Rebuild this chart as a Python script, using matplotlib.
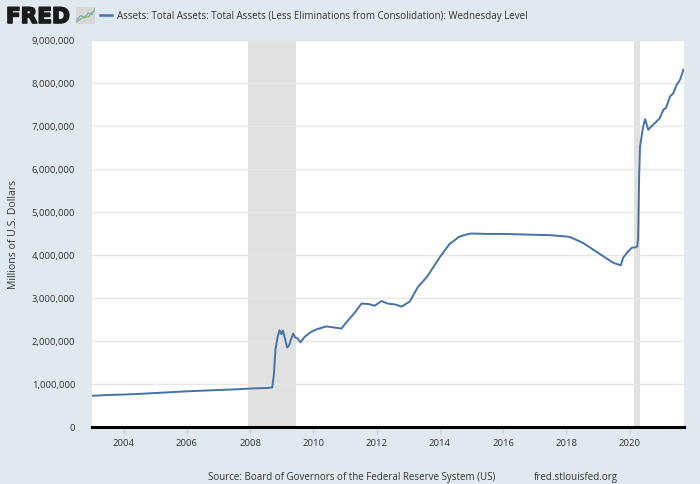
import matplotlib
matplotlib.use("Agg")
import matplotlib.pyplot as plt
import matplotlib.patheffects as pe
from matplotlib.ticker import FuncFormatter

plt.rcParams['font.family'] = ['Open Sans', 'DejaVu Sans']

# ---- data (decimal year, millions of U.S. dollars) ----
years = [2003.0, 2003.5, 2004.0, 2004.5, 2005.0, 2005.5, 2006.0, 2006.5, 2007.0, 2007.5,
         2007.9, 2008.2, 2008.5, 2008.70, 2008.75, 2008.80, 2008.87, 2008.93, 2008.99, 2009.04,
         2009.12, 2009.17, 2009.23, 2009.30, 2009.36, 2009.43, 2009.50, 2009.59, 2009.73, 2009.9,
         2010.10, 2010.41, 2010.6, 2010.89, 2011.05, 2011.3, 2011.52, 2011.75, 2011.94, 2012.15,
         2012.35, 2012.58, 2012.79, 2013.05, 2013.3, 2013.6, 2014.0, 2014.3, 2014.6, 2014.8,
         2015.0, 2015.5, 2016.0, 2016.5, 2017.0, 2017.5, 2018.0, 2018.11, 2018.53, 2019.17,
         2019.48, 2019.72, 2019.80, 2019.96, 2020.07, 2020.2, 2020.24, 2020.27, 2020.30, 2020.33,
         2020.43, 2020.49, 2020.59, 2020.70, 2020.86, 2020.95, 2021.07, 2021.15, 2021.28, 2021.38,
         2021.49, 2021.60, 2021.70]
assets = [725000, 745000, 755000, 770000, 790000, 810000, 830000, 845000, 860000, 875000,
          890000, 900000, 905000, 920000, 1200000, 1800000, 2100000, 2250000, 2160000, 2240000,
          2000000, 1850000, 1900000, 2050000, 2170000, 2080000, 2060000, 1970000, 2100000, 2200000,
          2270000, 2340000, 2320000, 2290000, 2440000, 2650000, 2870000, 2860000, 2820000, 2930000,
          2870000, 2850000, 2800000, 2920000, 3250000, 3500000, 3950000, 4250000, 4420000, 4470000,
          4500000, 4490000, 4490000, 4480000, 4470000, 4460000, 4430000, 4420000, 4280000, 3970000,
          3820000, 3760000, 3940000, 4090000, 4170000, 4180000, 4200000, 4400000, 5800000, 6530000,
          6990000, 7160000, 6910000, 7000000, 7110000, 7180000, 7380000, 7420000, 7690000, 7760000,
          7960000, 8080000, 8310000]

recessions = [(2007.92, 2009.46), (2020.13, 2020.33)]
xticks = [2004, 2006, 2008, 2010, 2012, 2014, 2016, 2018, 2020]
yticks = [0, 1000000, 2000000, 3000000, 4000000, 5000000, 6000000, 7000000, 8000000, 9000000]

title = "Assets: Total Assets: Total Assets (Less Eliminations from Consolidation): Wednesday Level"

BG = '#E1E9F0'
LINE = '#4572A7'
TXT = '#333333'

fig = plt.figure(figsize=(7, 4.85), dpi=100, facecolor=BG)
ax = fig.add_axes([92/700, 1 - 428/485, (684-92)/700, (428-41)/485])
ax.set_facecolor('white')

for a, b in recessions:
    ax.axvspan(a, b, color='#E1E1E1', lw=0, zorder=0)

ax.plot(years, assets, color=LINE, lw=1.4, zorder=3)

ax.set_xlim(2003.0, 2021.72)
ax.set_ylim(0, 9000000)
ax.set_xticks(xticks)
ax.set_xticklabels([str(x) for x in xticks])
ax.set_yticks(yticks)
ax.yaxis.set_major_formatter(FuncFormatter(lambda v, p: f"{int(v):,}"))
ax.grid(axis='y', color='#E6E6E6', lw=1, zorder=1)
for s in ['top', 'right', 'left']:
    ax.spines[s].set_visible(False)
ax.spines['bottom'].set_color('black')
ax.spines['bottom'].set_linewidth(2.2)
ax.spines['bottom'].set_zorder(4)
ax.tick_params(axis='y', length=0, pad=12, labelsize=6.8, labelcolor=TXT)
ax.tick_params(axis='x', length=5, color='#CCCCCC', width=1, pad=3, labelsize=6.8, labelcolor=TXT)
ax.set_ylabel("Millions of U.S. Dollars", fontsize=7.6, color=TXT)
ax.yaxis.set_label_coords((19 - 92) / 592, 0.5)

# header
fig.text(6/700, 1 - 18/485, "FRED", fontsize=15.5, fontweight='heavy', color='#1a1a1a',
         va='center', ha='left', family=['DejaVu Sans'],
         path_effects=[pe.withStroke(linewidth=1.2, foreground='#1a1a1a')])
icon = fig.add_axes([76/700, 1 - 25/485, 19/700, 17/485])
icon.set_facecolor('#D8D8D8')
icon.plot([0, 0.25, 0.45, 0.65, 0.85, 1.0], [0.2, 0.5, 0.35, 0.65, 0.55, 0.9], color='#7FA7CF', lw=0.9)
icon.plot([0, 0.25, 0.45, 0.65, 0.85, 1.0], [0.1, 0.3, 0.45, 0.4, 0.7, 0.8], color='#8DBF6A', lw=0.9)
icon.set_xlim(0, 1); icon.set_ylim(0, 1)
icon.set_xticks([]); icon.set_yticks([])
for s in icon.spines.values():
    s.set_visible(False)

fig.add_artist(plt.Line2D([100/700, 112/700], [1 - 16/485, 1 - 16/485], color=LINE, lw=1.8))
fig.text(117/700, 1 - 16/485, title, fontsize=7.05, color=TXT, va='center', ha='left')

fig.text(208/700, 1 - 478/485, "Source: Board of Governors of the Federal Reserve System (US)",
         fontsize=7.0, color=TXT, va='center', ha='left')
fig.text(534/700, 1 - 478/485, "fred.stlouisfed.org", fontsize=7.0, color=TXT,
         va='center', ha='left')

fig.savefig("out.png", dpi=100, facecolor=BG)
